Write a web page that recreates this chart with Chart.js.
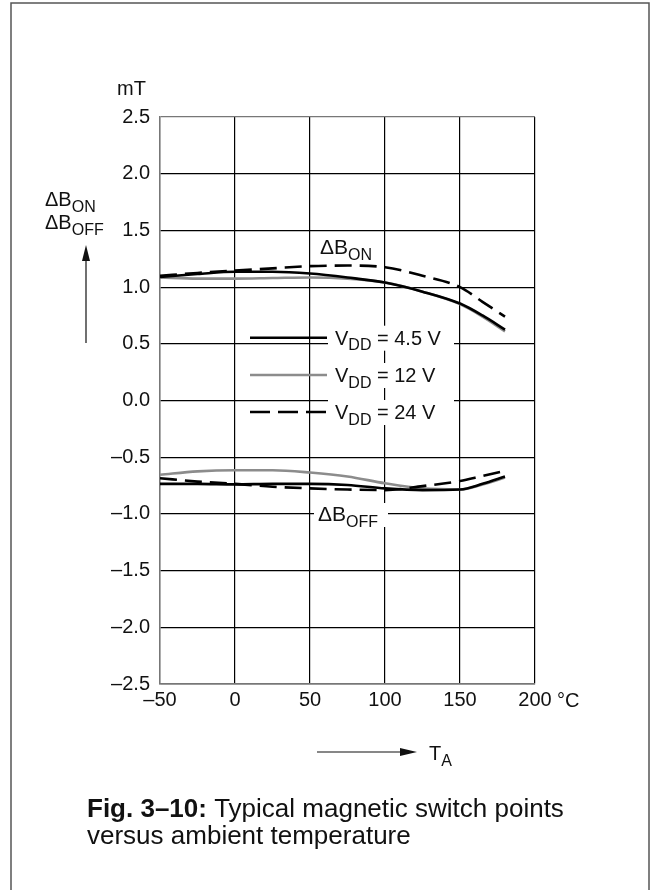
<!DOCTYPE html>
<html>
<head>
<meta charset="utf-8">
<script src="https://cdn.jsdelivr.net/npm/chart.js@4.4.1/dist/chart.umd.min.js"></script>
<style>
  html, body { margin: 0; padding: 0; background: #fff; }
  canvas { display: block; }
</style>
</head>
<body>
<canvas id="chart" width="653" height="890"></canvas>
<script>
// temperature points (°C)
const temps = [-50, -25, 0, 25, 50, 75, 100, 125, 150, 165, 180];

// ΔB_ON (mT)
const on45 = [1.09, 1.115, 1.135, 1.135, 1.12, 1.085, 1.04, 0.96, 0.855, 0.75, 0.625];
const on12 = [1.085, 1.075, 1.075, 1.08, 1.085, 1.075, 1.04, 0.96, 0.85, 0.74, 0.61];
const on24 = [1.10, 1.125, 1.145, 1.165, 1.185, 1.19, 1.175, 1.10, 1.0, 0.87, 0.74];

// ΔB_OFF (mT)
const off45 = [-0.735, -0.735, -0.74, -0.735, -0.735, -0.745, -0.775, -0.79, -0.785, -0.735, -0.67];
const off12 = [-0.655, -0.625, -0.615, -0.615, -0.635, -0.67, -0.73, -0.775, -0.785, -0.74, -0.68];
const off24 = [-0.685, -0.715, -0.735, -0.76, -0.775, -0.785, -0.79, -0.755, -0.71, -0.665, -0.62];

const legendLabels = ['4.5 V', '12 V', '24 V'];

const FONT = '"Liberation Sans", Arial, Helvetica, sans-serif';
const BLACK = '#000';
const GREY = '#8c8c8c';
const DASH = [17, 8];

const pts = (vals) => temps.map((t, i) => ({ x: t, y: vals[i] }));

const line = (vals, color, dash) => ({
  data: pts(vals),
  borderColor: color,
  borderWidth: 2.6,
  borderDash: dash || [],
  pointRadius: 0,
  cubicInterpolationMode: 'monotone',
  fill: false,
});

// draw text made of [text, isSubscript] parts, starting at x
function subText(ctx, parts, x, y, size) {
  ctx.textAlign = 'left';
  ctx.textBaseline = 'alphabetic';
  let cx = x;
  parts.forEach(([t, sub]) => {
    ctx.font = `${sub ? Math.round(size * 0.78) : size}px ${FONT}`;
    ctx.fillText(t, cx, sub ? y + size * 0.28 : y);
    cx += ctx.measureText(t).width;
  });
  return cx;
}

const decorations = {
  id: 'decorations',
  beforeDraw(chart) {
    const { ctx } = chart;
    ctx.save();
    ctx.fillStyle = '#fff';
    ctx.fillRect(0, 0, chart.width, chart.height);
    // outer frame
    ctx.strokeStyle = '#555';
    ctx.lineWidth = 1.5;
    ctx.strokeRect(11, 3, 638, 920);
    ctx.restore();
  },
  afterDraw(chart) {
    const { ctx } = chart;
    ctx.save();
    ctx.fillStyle = '#111';

    // unit label
    ctx.font = `20px ${FONT}`;
    ctx.textAlign = 'left';
    ctx.fillText('mT', 117, 95);

    // y title
    subText(ctx, [['ΔB', false], ['ON', true]], 45, 206, 20);
    subText(ctx, [['ΔB', false], ['OFF', true]], 45, 229, 20);

    // up arrow
    ctx.strokeStyle = '#111';
    ctx.lineWidth = 1.2;
    ctx.beginPath();
    ctx.moveTo(86, 343);
    ctx.lineTo(86, 255);
    ctx.stroke();
    ctx.beginPath();
    ctx.moveTo(86, 245);
    ctx.lineTo(82, 261);
    ctx.lineTo(90, 261);
    ctx.closePath();
    ctx.fill();

    // unit on x axis
    ctx.font = `20px ${FONT}`;
    ctx.textAlign = 'left';
    ctx.fillText('°C', 557, 707);

    // T_A arrow
    ctx.beginPath();
    ctx.moveTo(317, 752);
    ctx.lineTo(405, 752);
    ctx.stroke();
    ctx.beginPath();
    ctx.moveTo(417, 752);
    ctx.lineTo(400, 748);
    ctx.lineTo(400, 756);
    ctx.closePath();
    ctx.fill();
    subText(ctx, [['T', false], ['A', true]], 429, 760, 20);

    // curve labels
    subText(ctx, [['ΔB', false], ['ON', true]], 320, 254, 21);
    ctx.fillStyle = '#fff';
    ctx.fillRect(314, 503, 74, 24);
    ctx.fillStyle = '#111';
    subText(ctx, [['ΔB', false], ['OFF', true]], 318, 521, 21);

    // legend
    const rows = [337.7, 375, 412];
    const styles = [[BLACK, []], [GREY, []], [BLACK, [20, 8]]];
    rows.forEach((ry, i) => {
      ctx.fillStyle = '#fff';
      ctx.fillRect(328, ry - 12, 126, 25);
      ctx.strokeStyle = styles[i][0];
      ctx.setLineDash(styles[i][1]);
      ctx.lineWidth = 2.6;
      ctx.beginPath();
      ctx.moveTo(250, ry);
      ctx.lineTo(327, ry);
      ctx.stroke();
      ctx.setLineDash([]);
      ctx.fillStyle = '#111';
      subText(ctx, [['V', false], ['DD', true], [' = ' + legendLabels[i], false]], 335, ry + 7, 20);
    });

    // caption
    ctx.fillStyle = '#111';
    ctx.textAlign = 'left';
    ctx.font = `bold 26px ${FONT}`;
    const fig = 'Fig. 3–10:';
    ctx.fillText(fig, 87, 817);
    const w = ctx.measureText(fig + ' ').width;
    ctx.font = `26px ${FONT}`;
    ctx.fillText('Typical magnetic switch points', 87 + w, 817);
    ctx.fillText('versus ambient temperature', 87, 844);
    ctx.restore();
  },
};

const fmt = (v) => (v < 0 ? '–' : '') + Math.abs(v).toString();

new Chart(document.getElementById('chart'), {
  type: 'line',
  data: {
    datasets: [
      line(on45, BLACK),
      line(off45, BLACK),
      line(on24, BLACK, DASH),
      line(off24, BLACK, DASH),
      line(on12, GREY),
      line(off12, GREY),
    ],
  },
  plugins: [decorations],
  options: {
    responsive: false,
    animation: false,
    events: [],
    layout: { padding: { top: 117, right: 118, left: 0, bottom: 0 } },
    plugins: { legend: { display: false }, tooltip: { enabled: false } },
    scales: {
      x: {
        type: 'linear',
        min: -50,
        max: 200,
        afterFit(scale) { scale.height = 206; },
        ticks: {
          stepSize: 50,
          padding: 4,
          color: '#111',
          font: { family: FONT, size: 20 },
          callback: (v) => fmt(v),
        },
        grid: {
          drawTicks: false,
          color: (c) => (c.index === 0 ? '#777' : BLACK),
          lineWidth: 1.2,
        },
        border: { color: '#777', width: 1.5 },
      },
      y: {
        min: -2.5,
        max: 2.5,
        afterFit(scale) { scale.width = 160; },
        ticks: {
          stepSize: 0.5,
          padding: 10,
          color: '#111',
          font: { family: FONT, size: 20 },
          callback: (v) => (v < 0 ? '–' : '') + Math.abs(v).toFixed(1),
        },
        grid: {
          drawTicks: false,
          color: (c) => (c.tick && c.tick.value === 2.5 ? '#777' : BLACK),
          lineWidth: 1.2,
        },
        border: { color: '#777', width: 1.5 },
      },
    },
  },
});
</script>
</body>
</html>
